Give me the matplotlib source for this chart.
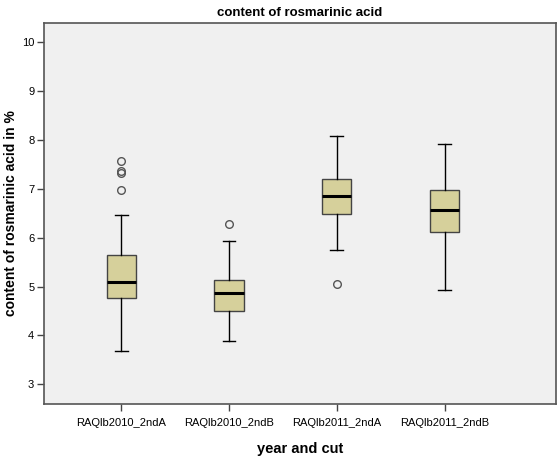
import matplotlib.pyplot as plt

groups = ['RAQlb2010_2ndA', 'RAQlb2010_2ndB', 'RAQlb2011_2ndA', 'RAQlb2011_2ndB']
whisker_low = [3.68, 3.89, 5.75, 4.93]
q1 = [4.76, 4.50, 6.49, 6.11]
median = [5.09, 4.86, 6.86, 6.57]
q3 = [5.64, 5.13, 7.20, 6.97]
whisker_high = [6.46, 5.94, 8.08, 7.92]
outliers = [[6.97, 7.33, 7.37, 7.57], [6.27], [5.05], []]

plt.rcParams['font.family'] = ['Liberation Sans', 'DejaVu Sans']

stats = []
for i, g in enumerate(groups):
    stats.append({'label': g, 'whislo': whisker_low[i], 'q1': q1[i], 'med': median[i],
                  'q3': q3[i], 'whishi': whisker_high[i], 'fliers': outliers[i]})

fig = plt.figure(figsize=(5.57, 4.57), dpi=100)
ax = fig.add_axes([0.079, 0.116, 0.919, 0.834])
ax.set_facecolor('#f0f0f0')

ax.bxp(stats, positions=[1, 2, 3, 4], widths=0.27, patch_artist=True,
       boxprops=dict(facecolor='#d6d09b', edgecolor='#444444', linewidth=1.0),
       medianprops=dict(color='black', linewidth=2.2),
       whiskerprops=dict(color='black', linewidth=1.0),
       capprops=dict(color='black', linewidth=1.0),
       capwidths=0.12,
       flierprops=dict(marker='o', markerfacecolor='none', markeredgecolor='#555555',
                       markersize=5.5, markeredgewidth=1.0))

ax.set_xlim(0.285, 5.03)
ax.set_ylim(2.6, 10.39)
ax.set_yticks(range(3, 11))
ax.set_xticks([1, 2, 3, 4])
ax.set_xticklabels(groups)
ax.tick_params(labelsize=8, length=5, color='#444444', width=1)
ax.tick_params(axis='y', pad=2)
ax.tick_params(axis='x', pad=5)
for s in ax.spines.values():
    s.set_color('#555555')
    s.set_linewidth(1.2)

ax.set_title('content of rosmarinic acid', fontsize=9.5, fontweight='bold', pad=5)
ax.set_xlabel('year and cut', fontsize=10.5, fontweight='bold', labelpad=10)
ax.set_ylabel('content of rosmarinic acid in %', fontsize=10, fontweight='bold', labelpad=3)

fig.savefig('out.png', dpi=100)
